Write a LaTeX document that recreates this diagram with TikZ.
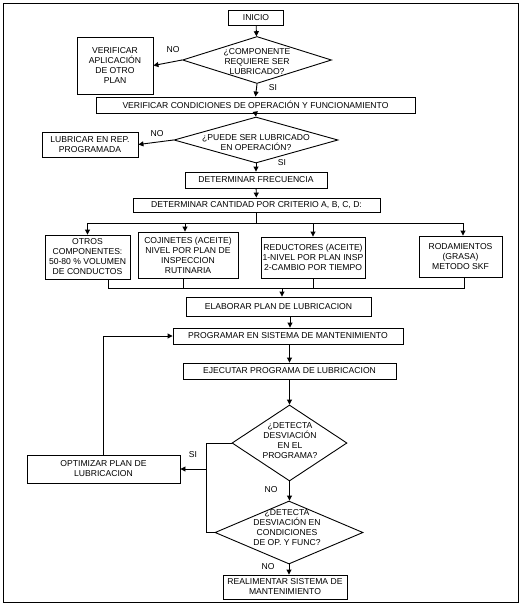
\documentclass[tikz,border=0pt]{standalone}
\usepackage{fontspec}
\setmainfont{Liberation Sans}
\usetikzlibrary{arrows.meta,shapes.geometric,calc}

\begin{document}
\begin{tikzpicture}[
  x=1pt, y=-1pt,
  font=\fontsize{8.6}{10}\selectfont,
  box/.style={draw, line width=0.9pt, align=center, inner sep=1pt},
  dia/.style={draw, diamond, line width=0.9pt, inner sep=0pt},
  dtext/.style={align=center, inner sep=0pt},
  lbl/.style={inner sep=0pt},
  ln/.style={line width=0.9pt},
  arr/.style={-{Triangle[length=5pt,width=5pt]}, line width=0.9pt}
]
  \useasboundingbox (0,0) rectangle (523,611);
  \draw[line width=1pt] (3,3) rectangle (518,602);

  % upper part
  \node[box, minimum width=55pt, minimum height=15pt] (inicio) at (256,17.5) {INICIO};
  \node[dia, minimum width=149pt, minimum height=47pt] (d1) at (257,60) {};
  \node[dtext] (t1) at (257,62) {¿COMPONENTE\\REQUIERE SER\\LUBRICADO?};
  \node[box, minimum width=76pt, minimum height=57pt] (otroplan) at (115,65.5) {VERIFICAR\\APLICACIÓN\\DE OTRO\\PLAN};
  \node[box, minimum width=319pt, minimum height=16pt] (condic) at (255.5,105) {VERIFICAR CONDICIONES DE OPERACIÓN Y FUNCIONAMIENTO};
  \node[dia, minimum width=164pt, minimum height=46pt] (d2) at (256,140) {};
  \node[dtext] (t2) at (256,143) {¿PUEDE SER LUBRICADO\\EN OPERACIÓN?};
  \node[box, minimum width=96pt, minimum height=25pt] (reppro) at (90,144.5) {LUBRICAR EN REP.\\PROGRAMADA};
  \node[box, minimum width=142pt, minimum height=16pt] (frec) at (256,180) {DETERMINAR FRECUENCIA};
  \node[box, minimum width=247pt, minimum height=14pt] (cant) at (256.5,205) {DETERMINAR CANTIDAD POR CRITERIO A, B, C, D:};

  % criterios
  \node[box, minimum width=85pt, minimum height=44pt] (otros) at (87.5,257) {OTROS\\COMPONENTES:\\50-80 \% VOLUMEN\\DE CONDUCTOS};
  \node[box, minimum width=100pt, minimum height=46pt] (cojin) at (188,255) {COJINETES (ACEITE)\\NIVEL POR PLAN DE\\INSPECCION\\RUTINARIA};
  \node[box, minimum width=104pt, minimum height=41pt] (reduc) at (313,257.5) {REDUCTORES (ACEITE)\\1-NIVEL POR PLAN INSP\\2-CAMBIO POR TIEMPO};
  \node[box, minimum width=83pt, minimum height=41pt] (rodam) at (460.5,256.5) {RODAMIENTOS\\(GRASA)\\METODO SKF};

  % lower part
  \node[box, minimum width=185pt, minimum height=19pt] (elab) at (278.5,306.5) {ELABORAR PLAN DE LUBRICACION};
  \node[box, minimum width=230pt, minimum height=16pt] (progr) at (288,336) {PROGRAMAR EN SISTEMA DE MANTENIMIENTO};
  \node[box, minimum width=213pt, minimum height=16pt] (ejec) at (289.5,371) {EJECUTAR PROGRAMA DE LUBRICACION};
  \node[dia, minimum width=115pt, minimum height=76pt] (d3) at (289.5,443) {};
  \node[dtext] (t3) at (290,440.5) {¿DETECTA\\DESVIACIÓN\\EN EL\\PROGRAMA?};
  \node[dia, minimum width=148pt, minimum height=63pt] (d4) at (289,532.5) {};
  \node[dtext] (t4) at (287,528) {¿DETECTA\\DESVIACIÓN EN\\CONDICIONES\\DE OP. Y FUNC?};
  \node[box, minimum width=153pt, minimum height=28pt] (optim) at (103.5,469) {OPTIMIZAR PLAN DE\\LUBRICACION};
  \node[box, minimum width=124pt, minimum height=24pt] (realim) at (285,587) {REALIMENTAR SISTEMA DE\\MANTENIMIENTO};

  % labels
  \node[lbl] (no1) at (173,50) {NO};
  \node[lbl] (si1) at (273,88) {SI};
  \node[lbl] (no2) at (157,134) {NO};
  \node[lbl] (si2) at (282,163) {SI};
  \node[lbl] (si3) at (193,455) {SI};
  \node[lbl] (no3) at (271,490) {NO};
  \node[lbl] (no4) at (268,567) {NO};

  \coordinate (bus) at (257,223);
  \coordinate (mrg) at (282,288);
  \coordinate (sjb) at (206,532.5);

  % connectors
  \draw[arr] (inicio) -- (d1);
  \draw[arr] (d1.west) -- (otroplan.east);
  \draw[arr] (d1.south) -- (condic.north);
  \draw[arr] (condic.south) -- (d2.north);
  \draw[arr] (d2.west) -- (reppro.east);
  \draw[arr] (d2.south) -- (frec.north);
  \draw[arr] (frec) -- (cant);

  \draw[ln] (cant.south) -- (cant.south |- bus);
  \draw[ln] (bus -| otros.north) -- ([xshift=2.5pt]bus -| rodam.north);
  \draw[arr] (bus -| otros.north) -- (otros.north);
  \draw[arr] ([xshift=-3pt]bus -| cojin.north) -- ([xshift=-3pt]cojin.north);
  \draw[arr] (bus -| reduc.north) -- (reduc.north);
  \draw[arr] ([xshift=2.5pt]bus -| rodam.north) -- ([xshift=2.5pt]rodam.north);

  \draw[ln] ([xshift=20.5pt]otros.south) |- ([xshift=3.5pt]mrg -| rodam.south) -- ([xshift=3.5pt]rodam.south);
  \draw[ln] ([xshift=-5pt]cojin.south) -- ([xshift=-5pt]cojin.south |- mrg);
  \draw[ln] (reduc.south) -- (reduc.south |- mrg);
  \draw[arr] (mrg) -- (mrg |- elab.north);

  \draw[arr] ([xshift=2pt]elab.south -| progr.north) -- ([xshift=2pt]progr.north);
  \draw[arr] (progr.south -| ejec.north) -- (ejec.north);
  \draw[arr] (ejec.south) -- (d3.north);
  \draw[arr] (d3.south) -- (d3.south |- d4.north);
  \draw[arr] (d4.south) -- (d4.south |- realim.north);

  \draw[ln] (d3.west) -| (sjb) -- (d4.west);
  \draw[arr] (optim.east -| sjb) -- (optim.east);
  \draw[arr] (optim.north) |- (progr.west);
\end{tikzpicture}
\end{document}
